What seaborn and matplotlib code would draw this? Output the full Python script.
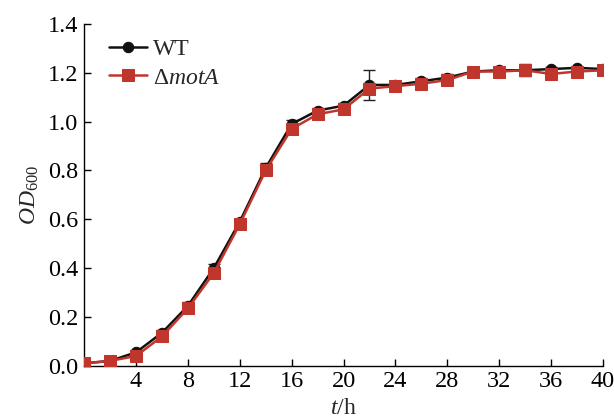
import numpy as np
import pandas as pd
import matplotlib
matplotlib.use('Agg')
import matplotlib.pyplot as plt
import seaborn as sns

# data
hours = [0, 2, 4, 6, 8, 10, 12, 14, 16, 18, 20, 22, 24, 26, 28, 30, 32, 34, 36, 38, 40]
od_wt = [0.01, 0.02, 0.055, 0.135, 0.245, 0.40, 0.59, 0.81, 0.99, 1.045, 1.065, 1.15,
         1.15, 1.165, 1.18, 1.205, 1.21, 1.21, 1.215, 1.22, 1.215]
err_wt = [0.005, 0.005, 0.01, 0.01, 0.015, 0.015, 0.01, 0.02, 0.015, 0.01, 0.01, 0.062,
          0.005, 0.015, 0.015, 0.005, 0.015, 0.025, 0.01, 0.005, 0.01]
od_mota = [0.01, 0.02, 0.04, 0.12, 0.235, 0.38, 0.58, 0.80, 0.97, 1.03, 1.05, 1.135,
           1.145, 1.155, 1.17, 1.205, 1.205, 1.21, 1.195, 1.205, 1.21]
err_mota = [0.005, 0.005, 0.01, 0.01, 0.02, 0.02, 0.01, 0.02, 0.01, 0.01, 0.01, 0.01,
            0.005, 0.01, 0.015, 0.005, 0.01, 0.01, 0.02, 0.005, 0.01]
strains = ['WT', r'$\Delta\mathit{motA}$']
colors = ['#111111', '#c0362c']
markers = ['o', 's']

sns.set_style('ticks')
plt.rcParams['font.family'] = ['Liberation Serif', 'DejaVu Serif']
plt.rcParams['mathtext.fontset'] = 'custom'
plt.rcParams['mathtext.rm'] = 'Liberation Serif'
plt.rcParams['mathtext.it'] = 'Liberation Serif:italic'

df = pd.DataFrame({
    'hour': hours * 2,
    'od': od_wt + od_mota,
    'err': err_wt + err_mota,
    'strain': [strains[0]] * len(hours) + [strains[1]] * len(hours),
})

fig = plt.figure(figsize=(6.14, 4.19), dpi=100)
ax = fig.add_axes([0.137, 0.127, 0.845, 0.816])

for s, c, m in zip(strains, colors, markers):
    d = df[df['strain'] == s]
    ax.errorbar(d['hour'], d['od'], yerr=d['err'], fmt='none', ecolor='#222222',
                elinewidth=1, capsize=4, capthick=1, zorder=2)
    sns.lineplot(data=d, x='hour', y='od', ax=ax, color=c, marker=m,
                 markersize=7.5 if m == 'o' else 8, markeredgecolor=c,
                 linewidth=1.8, label=s, zorder=3)

ax.set_xlim(0, 40)
ax.set_ylim(0, 1.4)
ax.set_xticks(range(4, 41, 4))
ax.set_yticks(np.arange(0, 1.41, 0.2))
ax.yaxis.set_major_formatter(matplotlib.ticker.FormatStrFormatter('%.1f'))
ax.tick_params(direction='in', length=5, width=1, labelsize=17.5, colors='black', pad=4)
for sp in ['left', 'bottom']:
    ax.spines[sp].set_linewidth(1)
    ax.spines[sp].set_color('black')
sns.despine(ax=ax)

ax.set_xlabel(r'$\mathit{t}$/h', fontsize=17, labelpad=4)
ax.set_ylabel(r'$\mathit{OD}_{600}$', fontsize=17, labelpad=5)

leg = ax.legend(loc='upper left', frameon=False, fontsize=17, handlelength=1.6,
                handletextpad=0.25, borderaxespad=0.0, labelspacing=0.3,
                bbox_to_anchor=(0.03, 0.985))

fig.savefig('out.png', dpi=100)
